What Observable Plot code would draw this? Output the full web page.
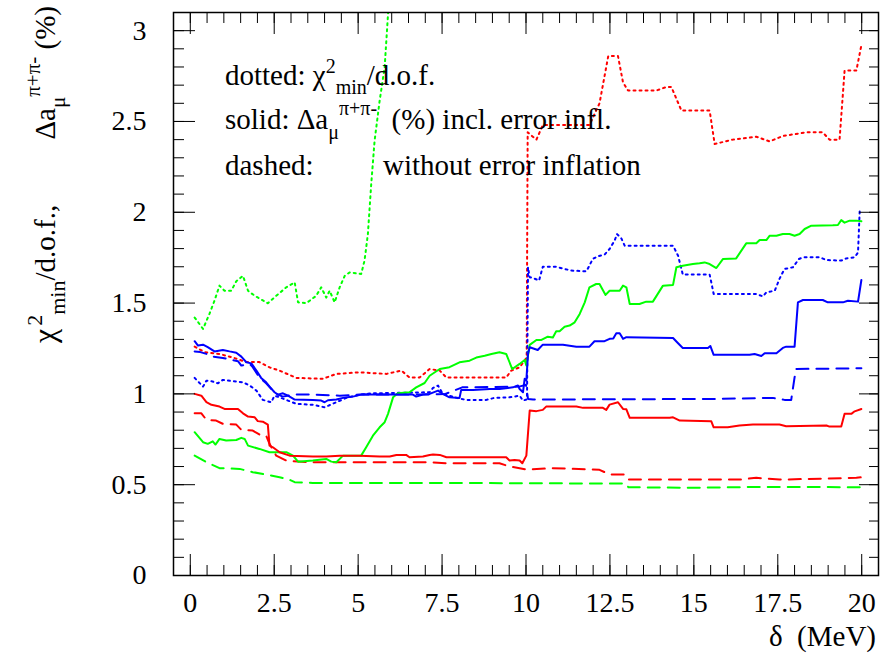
<!DOCTYPE html>
<html><head><meta charset="utf-8">
<script src="https://cdn.jsdelivr.net/npm/d3@7"></script>
<script src="https://cdn.jsdelivr.net/npm/@observablehq/plot@0.6"></script>
<style>body{margin:0;background:#fff} svg{display:block} svg text{font-family:"Liberation Serif","Times New Roman",serif !important}</style>
</head><body><div id="chart"></div>
<script>
// ---- data: [delta (MeV), value] ----
const redSolid = [[0.13,1.00],[0.33,0.99],[0.48,0.955],[0.63,0.94],[0.87,0.93],[1.02,0.917],[1.42,0.917],[1.57,0.893],[1.72,0.875],[1.92,0.871],[2.01,0.85],[2.16,0.847],[2.31,0.831],[2.36,0.715],[2.46,0.706],[2.66,0.679],[2.96,0.66],[3.65,0.655],[4.05,0.655],[4.45,0.66],[5.04,0.66],[5.64,0.655],[5.94,0.655],[6.14,0.664],[6.43,0.664],[6.53,0.651],[6.93,0.655],[7.13,0.664],[7.23,0.666],[7.43,0.664],[7.63,0.651],[9.41,0.651],[9.51,0.633],[9.66,0.636],[9.81,0.633],[9.89,0.618],[10.01,0.66],[10.11,0.908],[10.31,0.905],[10.5,0.912],[10.6,0.93],[11.5,0.93],[11.7,0.923],[12.29,0.923],[12.39,0.912],[12.49,0.941],[12.74,0.954],[12.89,0.917],[12.99,0.915],[13.09,0.868],[14.28,0.868],[14.38,0.871],[14.58,0.853],[15.52,0.849],[15.59,0.816],[16.01,0.816],[16.36,0.826],[16.76,0.831],[17.55,0.831],[17.75,0.822],[18.95,0.826],[19.04,0.82],[19.39,0.82],[19.49,0.89],[19.69,0.89],[19.79,0.904],[19.99,0.917]];
const redDashed = [[0.13,0.893],[0.33,0.893],[0.48,0.857],[0.77,0.853],[0.97,0.835],[1.37,0.831],[1.52,0.802],[1.86,0.798],[2.06,0.776],[2.26,0.77],[2.36,0.725],[2.56,0.66],[2.86,0.633],[3.46,0.624],[7.13,0.624],[7.63,0.618],[9.21,0.618],[9.51,0.60],[9.81,0.591],[10.01,0.583],[10.8,0.591],[12.19,0.582],[12.49,0.556],[12.94,0.556],[13.04,0.528],[16.36,0.528],[16.86,0.538],[17.55,0.528],[19.84,0.538],[19.99,0.541]];
const redDotted = [[0.13,1.26],[0.43,1.23],[0.87,1.22],[1.27,1.20],[1.67,1.175],[2.06,1.175],[2.36,1.146],[2.66,1.128],[3.16,1.088],[3.95,1.083],[4.35,1.11],[5.04,1.119],[5.84,1.11],[6.29,1.128],[6.53,1.09],[6.83,1.09],[7.13,1.137],[7.43,1.128],[7.63,1.09],[9.41,1.09],[9.56,1.128],[9.81,1.146],[10.02,1.2],[10.05,2.44],[10.31,2.40],[10.5,2.48],[11.89,2.48],[12.19,2.60],[12.45,2.86],[12.74,2.86],[12.89,2.715],[13.04,2.67],[13.88,2.67],[14.18,2.69],[14.33,2.69],[14.63,2.56],[15.47,2.56],[15.62,2.376],[16.16,2.40],[16.86,2.416],[17.26,2.39],[17.65,2.42],[18.35,2.44],[18.84,2.44],[19.04,2.40],[19.34,2.40],[19.49,2.78],[19.84,2.78],[19.99,2.92]];
const greenSolid = [[0.13,0.789],[0.38,0.734],[0.52,0.725],[0.67,0.739],[0.75,0.721],[0.87,0.752],[1.07,0.743],[1.37,0.746],[1.52,0.758],[1.62,0.752],[1.72,0.715],[2.06,0.697],[2.36,0.679],[2.86,0.679],[3.06,0.66],[3.21,0.627],[3.65,0.633],[4.05,0.642],[4.2,0.627],[4.35,0.624],[4.55,0.66],[5.09,0.66],[5.24,0.706],[5.44,0.77],[5.64,0.816],[5.79,0.844],[5.89,0.89],[6.04,0.981],[6.18,1.003],[6.53,1.009],[6.73,1.036],[6.98,1.06],[7.13,1.10],[7.43,1.137],[7.72,1.147],[8.02,1.174],[8.32,1.183],[8.52,1.20],[8.77,1.21],[8.97,1.22],[9.21,1.229],[9.41,1.22],[9.59,1.137],[9.81,1.165],[9.96,1.187],[10.01,1.156],[10.11,1.27],[10.31,1.297],[10.46,1.297],[10.65,1.315],[10.8,1.31],[10.9,1.345],[11.0,1.345],[11.15,1.37],[11.3,1.376],[11.45,1.394],[11.6,1.44],[11.75,1.504],[11.89,1.587],[12.09,1.605],[12.19,1.605],[12.37,1.545],[12.49,1.568],[12.79,1.568],[12.89,1.596],[12.99,1.587],[13.09,1.495],[13.38,1.495],[13.58,1.508],[13.78,1.508],[14.08,1.596],[14.38,1.60],[14.48,1.697],[14.67,1.706],[14.97,1.715],[15.17,1.719],[15.32,1.724],[15.47,1.715],[15.67,1.693],[15.87,1.743],[16.26,1.746],[16.56,1.829],[16.86,1.829],[16.96,1.847],[17.16,1.847],[17.26,1.871],[17.46,1.871],[17.65,1.88],[17.85,1.88],[18.0,1.871],[18.15,1.88],[18.3,1.908],[18.5,1.926],[19.14,1.928],[19.29,1.93],[19.39,1.957],[19.49,1.943],[19.64,1.954],[19.84,1.954],[19.99,1.95]];
const greenDashed = [[0.13,0.66],[0.48,0.624],[0.87,0.591],[1.47,0.587],[1.86,0.569],[2.26,0.556],[2.66,0.541],[2.96,0.527],[3.11,0.514],[3.65,0.51],[7.13,0.51],[12.99,0.506],[13.05,0.486],[15.0,0.483],[17.0,0.488],[19.99,0.486]];
const greenDotted = [[0.13,1.42],[0.38,1.358],[0.57,1.44],[0.72,1.513],[0.87,1.596],[1.02,1.568],[1.22,1.568],[1.37,1.62],[1.57,1.65],[1.72,1.568],[1.92,1.54],[2.31,1.499],[2.56,1.54],[2.86,1.587],[3.11,1.614],[3.21,1.504],[3.46,1.50],[3.75,1.54],[3.90,1.587],[4.05,1.53],[4.15,1.568],[4.30,1.504],[4.45,1.587],[4.60,1.65],[4.75,1.669],[5.09,1.66],[5.19,1.734],[5.29,1.88],[5.39,2.156],[5.49,2.394],[5.64,2.614],[5.79,2.80],[5.89,3.09],[5.95,3.3]];
const blueSolid = [[0.13,1.29],[0.23,1.266],[0.38,1.271],[0.52,1.257],[0.72,1.234],[0.97,1.242],[1.17,1.234],[1.37,1.227],[1.52,1.205],[1.67,1.174],[1.82,1.168],[1.97,1.128],[2.11,1.088],[2.26,1.064],[2.38,1.036],[2.51,1.009],[2.61,0.996],[2.76,1.003],[2.91,0.99],[3.11,0.969],[3.65,0.967],[3.9,0.963],[4.0,0.954],[4.1,0.965],[4.35,0.969],[4.55,0.978],[4.84,0.985],[5.09,0.996],[6.63,0.996],[6.73,0.985],[6.93,0.996],[7.13,1.0],[7.38,1.018],[7.52,1.0],[7.72,0.981],[8.02,0.978],[8.07,1.022],[8.42,1.022],[8.92,1.027],[9.21,1.027],[9.61,1.036],[9.76,1.046],[9.81,1.027],[9.91,1.009],[9.96,1.083],[10.01,1.073],[10.06,1.22],[10.11,1.257],[10.35,1.242],[10.5,1.271],[11.1,1.271],[11.5,1.26],[11.89,1.26],[12.04,1.29],[12.34,1.29],[12.49,1.303],[12.6,1.305],[12.69,1.334],[12.79,1.334],[12.89,1.303],[12.99,1.312],[14.38,1.308],[14.53,1.279],[14.67,1.253],[15.42,1.253],[15.49,1.264],[15.59,1.215],[16.66,1.215],[16.81,1.22],[17.01,1.209],[17.11,1.224],[17.46,1.224],[17.65,1.253],[17.75,1.26],[18.0,1.26],[18.1,1.504],[18.25,1.517],[18.84,1.517],[18.99,1.504],[19.44,1.504],[19.59,1.513],[19.89,1.508],[19.99,1.627]];
const blueDashed = [[0.13,1.234],[0.3,1.23],[0.48,1.22],[0.67,1.205],[0.97,1.198],[1.22,1.187],[1.42,1.18],[1.52,1.156],[1.77,1.165],[1.86,1.147],[2.06,1.091],[2.26,1.058],[2.46,1.018],[2.61,0.996],[2.76,0.985],[3.06,0.996],[3.65,0.996],[4.45,0.99],[5.04,0.996],[7.13,0.996],[7.6,1.0],[8.1,1.036],[9.8,1.04],[10.0,1.05],[10.06,0.972],[10.21,0.969],[15.57,0.972],[17.35,0.978],[17.7,0.967],[17.9,0.967],[18.0,1.091],[18.05,1.137],[19.99,1.141]];
const blueDotted = [[0.13,1.088],[0.38,1.04],[0.48,1.073],[0.63,1.07],[0.82,1.058],[0.97,1.077],[1.27,1.07],[1.57,1.064],[1.77,1.046],[1.97,1.018],[2.16,0.967],[2.41,0.954],[2.51,0.99],[2.66,0.981],[3.16,0.945],[3.65,0.94],[4.0,0.926],[4.35,0.954],[4.65,0.978],[5.04,0.996],[5.44,1.003],[7.13,1.009],[7.23,1.033],[7.38,1.046],[7.52,1.0],[8.0,0.975],[8.22,0.967],[8.82,0.967],[9.06,0.978],[9.51,0.981],[9.81,0.99],[9.91,0.963],[10.03,0.97],[10.06,1.697],[10.11,1.642],[10.21,1.638],[10.39,1.624],[10.5,1.70],[10.9,1.70],[11.15,1.688],[11.35,1.679],[11.8,1.675],[11.99,1.743],[12.14,1.758],[12.34,1.767],[12.49,1.798],[12.64,1.844],[12.71,1.88],[12.84,1.856],[12.94,1.816],[14.38,1.816],[14.53,1.761],[14.63,1.688],[14.67,1.657],[15.47,1.657],[15.52,1.614],[15.59,1.55],[16.86,1.55],[17.06,1.537],[17.16,1.559],[17.41,1.568],[17.55,1.633],[17.7,1.688],[17.95,1.697],[18.13,1.743],[18.25,1.752],[18.75,1.752],[18.95,1.737],[19.39,1.734],[19.54,1.746],[19.79,1.752],[19.89,1.779],[19.94,2.009],[19.99,2.018]];

const xMajor = [0, 2.5, 5, 7.5, 10, 12.5, 15, 17.5, 20];
const xMinor = d3.range(0, 41).map(i => i * 0.5);
const yMajor = [0, 0.5, 1, 1.5, 2, 2.5, 3];
const yMinor = d3.range(0, 31).map(i => +(i * 0.1).toFixed(1));

// ---- styling ----
const RED = "#ff0000", GREEN = "#00ff00", BLUE = "#0000ff";
const DASH = "12,8", DOT = "2,4";
const font = "Liberation Serif, Times New Roman, serif";
const series = [
  {data: greenDotted, color: GREEN, dash: DOT},
  {data: redDotted, color: RED, dash: DOT},
  {data: blueDotted, color: BLUE, dash: DOT},
  {data: greenDashed, color: GREEN, dash: DASH},
  {data: redDashed, color: RED, dash: DASH},
  {data: blueDashed, color: BLUE, dash: DASH},
  {data: greenSolid, color: GREEN, dash: null},
  {data: redSolid, color: RED, dash: null},
  {data: blueSolid, color: BLUE, dash: null}
];

const tickCommon = {label: null, tickFormat: () => "", stroke: "#000", strokeWidth: 1};
const labelCommon = {tickSize: 0, label: null, tickFormat: d => String(d), fontSize: 28, fontFamily: font, fill: "#000"};
const plot = Plot.plot({
  width: 884, height: 656,
  marginLeft: 173, marginRight: 6, marginTop: 12, marginBottom: 81,
  style: {fontFamily: font, fontSize: "28px", background: "#fff", color: "#000"},
  x: {domain: [-0.5, 20.5]},
  y: {domain: [0, 3.1]},
  marks: [
    ...series.map(s => Plot.line(s.data, {x: d => d[0], y: d => d[1], stroke: s.color, strokeWidth: 2, strokeDasharray: s.dash, clip: true})),
    Plot.axisX({...tickCommon, ticks: xMinor, anchor: "bottom", tickSize: -10}),
    Plot.axisX({...tickCommon, ticks: xMajor, anchor: "bottom", tickSize: -21}),
    Plot.axisX({...tickCommon, ticks: xMinor, anchor: "top", tickSize: -10}),
    Plot.axisX({...tickCommon, ticks: xMajor, anchor: "top", tickSize: -21}),
    Plot.axisY({...tickCommon, ticks: yMinor, anchor: "left", tickSize: -11}),
    Plot.axisY({...tickCommon, ticks: yMajor, anchor: "left", tickSize: -22}),
    Plot.axisY({...tickCommon, ticks: yMinor, anchor: "right", tickSize: -10}),
    Plot.axisY({...tickCommon, ticks: yMajor, anchor: "right", tickSize: -20}),
    Plot.axisX({...labelCommon, ticks: xMajor, anchor: "bottom", tickPadding: 17}),
    Plot.axisY({...labelCommon, ticks: yMajor, anchor: "left", tickPadding: 27}),
    Plot.frame({stroke: "#000", strokeWidth: 1.5})
  ]
});
document.getElementById("chart").append(plot);

// ---- rich text (titles, legend) ----
const svg = d3.select(plot);
svg.selectAll("text").attr("font-family", font).attr("font-variant", "normal").style("font-variant", "normal");
function rich(x, y, parts, rotate, anchor) {
  const t = svg.append("text")
    .attr("font-family", font).attr("font-size", 29).attr("fill", "#000")
    .attr("text-anchor", anchor || "start")
    .style("white-space", "pre")
    .attr("transform", `translate(${x},${y})` + (rotate ? ` rotate(${rotate})` : ""));
  let prev = 0;
  for (const p of parts) {
    const s = p.shift || 0;
    const ts = t.append("tspan").attr("dy", s - prev).attr("font-size", p.size || 29).text(p.t);
    if (p.dx) ts.attr("dx", p.dx);
    prev = s;
  }
  return t;
}
rich(225, 85, [{t: "dotted: χ"}, {t: "2", size: 20, shift: -12}, {t: "min", size: 20, shift: 9}, {t: "/d.o.f."}]);
rich(225, 129, [{t: "solid: Δa"}, {t: "μ", size: 20, shift: 10}, {t: "π+π-", size: 20, shift: -14}, {t: "  (%) incl. error infl."}]);
rich(225, 175, [{t: "dashed:"}]);
rich(383, 175, [{t: "without error inflation"}]);
rich(55, 343, [{t: "χ", size: 32}, {t: "2", size: 22, shift: -13, dx: 3}, {t: "min", size: 22, shift: 10}, {t: "/d.o.f.,         Δa"}, {t: "μ", size: 21, shift: 10}, {t: "π+π-", size: 21, shift: -15}, {t: " (%)"}], -90);
rich(876, 646, [{t: "δ  (MeV)"}], 0, "end");
</script>
</body></html>
